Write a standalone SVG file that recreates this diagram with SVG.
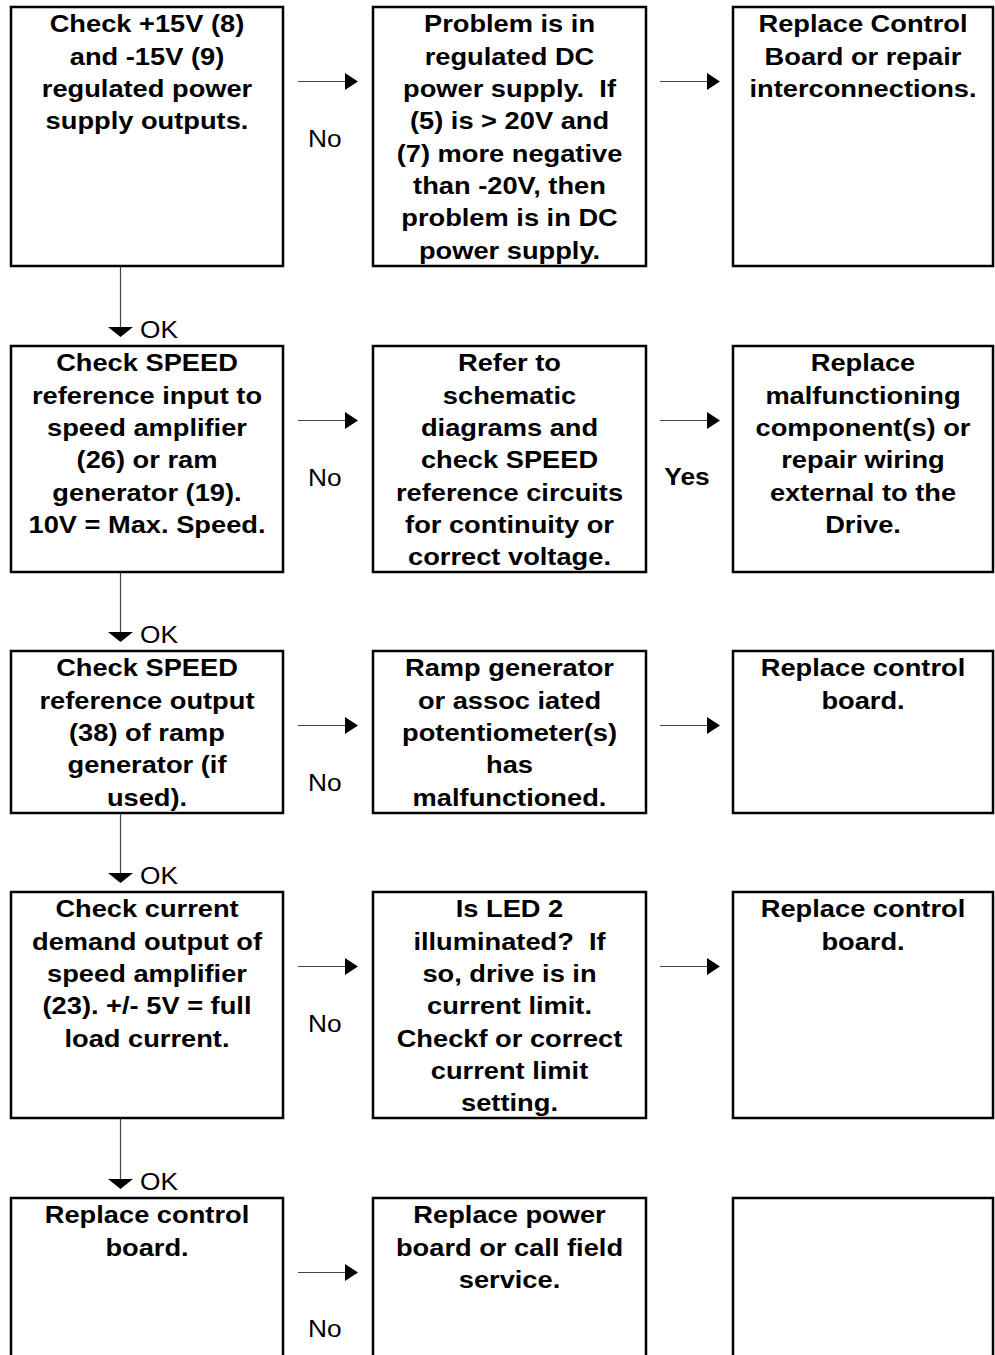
<svg xmlns="http://www.w3.org/2000/svg" width="995" height="1355" viewBox="0 0 995 1355">
  <style>
    .box { fill: #fff; stroke: #000; stroke-width: 2.5; }
    .t { font-family: "Liberation Sans", Arial, sans-serif; font-size: 23.5px; font-weight: bold; fill: #000; text-anchor: middle; white-space: pre; }
    .lbl { font-family: "Liberation Sans", Arial, sans-serif; font-size: 23.5px; fill: #000; }
    .lblb { font-family: "Liberation Sans", Arial, sans-serif; font-size: 23.5px; font-weight: bold; fill: #000; text-anchor: middle; }
    .ln { stroke: #444; stroke-width: 1.2; fill: none; }
    .ah { fill: #000; }
  </style>
  <rect width="995" height="1355" fill="#fff"/>

  <!-- connectors -->
  <g id="connectors">
    <!-- row 1 -->
    <line class="ln" x1="298" y1="81.5" x2="346" y2="81.5"/><polygon class="ah" points="345,73 358,81.5 345,90"/>
    <line class="ln" x1="660" y1="81.5" x2="708" y2="81.5"/><polygon class="ah" points="707,73 720,81.5 707,90"/>
    <text class="lbl" transform="translate(308,147) scale(1.12,1)">No</text>
    <!-- row 1 to row 2 -->
    <line class="ln" x1="120.5" y1="266" x2="120.5" y2="329"/><polygon class="ah" points="108,327 133,327 120.5,337"/>
    <text class="lbl" transform="translate(140,338) scale(1.12,1)">OK</text>
    <!-- row 2 -->
    <line class="ln" x1="298" y1="420.5" x2="346" y2="420.5"/><polygon class="ah" points="345,412 358,420.5 345,429"/>
    <line class="ln" x1="660" y1="420.5" x2="708" y2="420.5"/><polygon class="ah" points="707,412 720,420.5 707,429"/>
    <text class="lbl" transform="translate(308,486) scale(1.12,1)">No</text>
    <text class="lblb" transform="translate(687,485) scale(1.12,1)">Yes</text>
    <!-- row 2 to row 3 -->
    <line class="ln" x1="120.5" y1="572" x2="120.5" y2="634"/><polygon class="ah" points="108,632 133,632 120.5,642"/>
    <text class="lbl" transform="translate(140,643) scale(1.12,1)">OK</text>
    <!-- row 3 -->
    <line class="ln" x1="298" y1="725.5" x2="346" y2="725.5"/><polygon class="ah" points="345,717 358,725.5 345,734"/>
    <line class="ln" x1="660" y1="725.5" x2="708" y2="725.5"/><polygon class="ah" points="707,717 720,725.5 707,734"/>
    <text class="lbl" transform="translate(308,791) scale(1.12,1)">No</text>
    <!-- row 3 to row 4 -->
    <line class="ln" x1="120.5" y1="813" x2="120.5" y2="875"/><polygon class="ah" points="108,873 133,873 120.5,883"/>
    <text class="lbl" transform="translate(140,884) scale(1.12,1)">OK</text>
    <!-- row 4 -->
    <line class="ln" x1="298" y1="966.5" x2="346" y2="966.5"/><polygon class="ah" points="345,958 358,966.5 345,975"/>
    <line class="ln" x1="660" y1="966.5" x2="708" y2="966.5"/><polygon class="ah" points="707,958 720,966.5 707,975"/>
    <text class="lbl" transform="translate(308,1032) scale(1.12,1)">No</text>
    <!-- row 4 to row 5 -->
    <line class="ln" x1="120.5" y1="1118" x2="120.5" y2="1181"/><polygon class="ah" points="108,1179 133,1179 120.5,1189"/>
    <text class="lbl" transform="translate(140,1190) scale(1.12,1)">OK</text>
    <!-- row 5 -->
    <line class="ln" x1="298" y1="1272.5" x2="346" y2="1272.5"/><polygon class="ah" points="345,1264 358,1272.5 345,1281"/>
    <text class="lbl" transform="translate(308,1337) scale(1.12,1)">No</text>
  </g>

  <!-- row 1 -->
  <g id="check-15v">
    <rect class="box" x="11" y="7" width="272" height="259"/>
    <g transform="translate(147,0) scale(1.16,1)">
      <text class="t" x="0" y="32.5">Check +15V (8)</text>
      <text class="t" x="0" y="64.8">and -15V (9)</text>
      <text class="t" x="0" y="97.1">regulated power</text>
      <text class="t" x="0" y="129.4">supply outputs.</text>
    </g>
  </g>
  <g id="regulated-dc">
    <rect class="box" x="373" y="7" width="273" height="259"/>
    <g transform="translate(509.5,0) scale(1.16,1)">
      <text class="t" x="0" y="32.5">Problem is in</text>
      <text class="t" x="0" y="64.8">regulated DC</text>
      <text class="t" x="0" y="97.1">power supply.  If</text>
      <text class="t" x="0" y="129.4">(5) is &gt; 20V and</text>
      <text class="t" x="0" y="161.7">(7) more negative</text>
      <text class="t" x="0" y="194">than -20V, then</text>
      <text class="t" x="0" y="226.3">problem is in DC</text>
      <text class="t" x="0" y="258.6">power supply.</text>
    </g>
  </g>
  <g id="replace-interconnections">
    <rect class="box" x="733" y="7" width="260" height="259"/>
    <g transform="translate(863,0) scale(1.16,1)">
      <text class="t" x="0" y="32.5">Replace Control</text>
      <text class="t" x="0" y="64.8">Board or repair</text>
      <text class="t" x="0" y="97.1">interconnections.</text>
    </g>
  </g>

  <!-- row 2 -->
  <g id="check-speed-input">
    <rect class="box" x="11" y="346" width="272" height="226"/>
    <g transform="translate(147,0) scale(1.16,1)">
      <text class="t" x="0" y="371.5">Check SPEED</text>
      <text class="t" x="0" y="403.8">reference input to</text>
      <text class="t" x="0" y="436.1">speed amplifier</text>
      <text class="t" x="0" y="468.4">(26) or ram</text>
      <text class="t" x="0" y="500.7">generator (19).</text>
      <text class="t" x="0" y="533">10V = Max. Speed.</text>
    </g>
  </g>
  <g id="refer-schematic">
    <rect class="box" x="373" y="346" width="273" height="226"/>
    <g transform="translate(509.5,0) scale(1.16,1)">
      <text class="t" x="0" y="371.5">Refer to</text>
      <text class="t" x="0" y="403.8">schematic</text>
      <text class="t" x="0" y="436.1">diagrams and</text>
      <text class="t" x="0" y="468.4">check SPEED</text>
      <text class="t" x="0" y="500.7">reference circuits</text>
      <text class="t" x="0" y="533">for continuity or</text>
      <text class="t" x="0" y="565.3">correct voltage.</text>
    </g>
  </g>
  <g id="replace-component">
    <rect class="box" x="733" y="346" width="260" height="226"/>
    <g transform="translate(863,0) scale(1.16,1)">
      <text class="t" x="0" y="371.5">Replace</text>
      <text class="t" x="0" y="403.8">malfunctioning</text>
      <text class="t" x="0" y="436.1">component(s) or</text>
      <text class="t" x="0" y="468.4">repair wiring</text>
      <text class="t" x="0" y="500.7">external to the</text>
      <text class="t" x="0" y="533">Drive.</text>
    </g>
  </g>

  <!-- row 3 -->
  <g id="check-speed-output">
    <rect class="box" x="11" y="651" width="272" height="162"/>
    <g transform="translate(147,0) scale(1.16,1)">
      <text class="t" x="0" y="676.5">Check SPEED</text>
      <text class="t" x="0" y="708.8">reference output</text>
      <text class="t" x="0" y="741.1">(38) of ramp</text>
      <text class="t" x="0" y="773.4">generator (if</text>
      <text class="t" x="0" y="805.7">used).</text>
    </g>
  </g>
  <g id="ramp-generator">
    <rect class="box" x="373" y="651" width="273" height="162"/>
    <g transform="translate(509.5,0) scale(1.16,1)">
      <text class="t" x="0" y="676.5">Ramp generator</text>
      <text class="t" x="0" y="708.8">or assoc iated</text>
      <text class="t" x="0" y="741.1">potentiometer(s)</text>
      <text class="t" x="0" y="773.4">has</text>
      <text class="t" x="0" y="805.7">malfunctioned.</text>
    </g>
  </g>
  <g id="replace-board-3">
    <rect class="box" x="733" y="651" width="260" height="162"/>
    <g transform="translate(863,0) scale(1.16,1)">
      <text class="t" x="0" y="676.5">Replace control</text>
      <text class="t" x="0" y="708.8">board.</text>
    </g>
  </g>

  <!-- row 4 -->
  <g id="check-current-demand">
    <rect class="box" x="11" y="892" width="272" height="226"/>
    <g transform="translate(147,0) scale(1.16,1)">
      <text class="t" x="0" y="917.5">Check current</text>
      <text class="t" x="0" y="949.8">demand output of</text>
      <text class="t" x="0" y="982.1">speed amplifier</text>
      <text class="t" x="0" y="1014.4">(23). +/- 5V = full</text>
      <text class="t" x="0" y="1046.7">load current.</text>
    </g>
  </g>
  <g id="led-2">
    <rect class="box" x="373" y="892" width="273" height="226"/>
    <g transform="translate(509.5,0) scale(1.16,1)">
      <text class="t" x="0" y="917.5">Is LED 2</text>
      <text class="t" x="0" y="949.8">illuminated?  If</text>
      <text class="t" x="0" y="982.1">so, drive is in</text>
      <text class="t" x="0" y="1014.4">current limit.</text>
      <text class="t" x="0" y="1046.7">Checkf or correct</text>
      <text class="t" x="0" y="1079">current limit</text>
      <text class="t" x="0" y="1111.3">setting.</text>
    </g>
  </g>
  <g id="replace-board-4">
    <rect class="box" x="733" y="892" width="260" height="226"/>
    <g transform="translate(863,0) scale(1.16,1)">
      <text class="t" x="0" y="917.5">Replace control</text>
      <text class="t" x="0" y="949.8">board.</text>
    </g>
  </g>

  <!-- row 5 (runs off the lower edge) -->
  <g id="replace-board-5">
    <rect class="box" x="11" y="1198" width="272" height="170"/>
    <g transform="translate(147,0) scale(1.16,1)">
      <text class="t" x="0" y="1223.5">Replace control</text>
      <text class="t" x="0" y="1255.8">board.</text>
    </g>
  </g>
  <g id="replace-power-board">
    <rect class="box" x="373" y="1198" width="273" height="170"/>
    <g transform="translate(509.5,0) scale(1.16,1)">
      <text class="t" x="0" y="1223.5">Replace power</text>
      <text class="t" x="0" y="1255.8">board or call field</text>
      <text class="t" x="0" y="1288.1">service.</text>
    </g>
  </g>
  <g id="empty-5">
    <rect class="box" x="733" y="1198" width="260" height="170"/>
  </g>
</svg>
